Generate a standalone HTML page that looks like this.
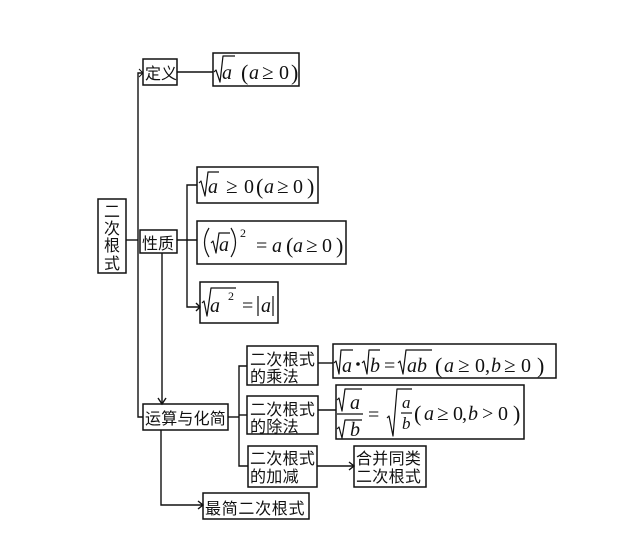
<!DOCTYPE html>
<html><head><meta charset="utf-8">
<style>
html,body{margin:0;padding:0;background:#fff;}
svg{display:block;}
.cn{font-family:"Liberation Sans","Noto Sans CJK SC",sans-serif;font-size:16px;fill:#111;}
.m{font-family:"Liberation Serif",serif;font-size:20px;fill:#111;}
.i{font-style:italic;}
.p{font-size:22px;}
.s{font-size:12px;}
.g{font-size:21px;}
.f{font-size:17px;}
</style></head>
<body>
<svg width="640" height="557" viewBox="0 0 640 557" xmlns="http://www.w3.org/2000/svg">
<rect width="640" height="557" fill="#fff"/>
<g fill="none" stroke="#111" stroke-width="1.5">
  <rect x="143" y="59" width="34" height="26"/>
  <rect x="213" y="53" width="86" height="33"/>
  <rect x="98" y="199" width="28" height="74"/>
  <rect x="140" y="230" width="37" height="23"/>
  <rect x="197" y="167" width="121" height="36"/>
  <rect x="197" y="221" width="149" height="43"/>
  <rect x="200" y="282" width="78" height="41"/>
  <rect x="143" y="404" width="85" height="26"/>
  <rect x="247" y="346" width="71" height="39"/>
  <rect x="247" y="396" width="71" height="38"/>
  <rect x="248" y="446" width="69" height="41"/>
  <rect x="333" y="344" width="223" height="34"/>
  <rect x="336" y="385" width="188" height="54"/>
  <rect x="354" y="446" width="72" height="41"/>
  <rect x="203" y="493" width="106" height="26"/>
</g>
<g fill="none" stroke="#111" stroke-width="1.4">
  <path d="M177,72 H213"/>
  <path d="M143,73 H138 V417 H143"/>
  <path d="M126,240 H138"/>
  <path d="M177,240 H197"/>
  <path d="M197,185 H187 V307 H200"/>
  <path d="M162,253 V404"/>
  <path d="M228,417 H239"/>
  <path d="M247,366 H239 V466 H248"/>
  <path d="M239,415 H247"/>
  <path d="M318,363 H333"/>
  <path d="M318,410 H336"/>
  <path d="M317,466 H354"/>
  <path d="M161,430 V505 H203"/>
  <path d="M158,398 L162,404 L166,398"/>
  <path d="M349,462 L354,466 L349,470"/>
  <path d="M198,501 L203,505 L198,509"/>
  <path d="M196,303 L200,307 L196,311"/>
  <path d="M139,69 L143,73 L139,77" stroke-width="1"/>
</g>

<text class="cn" x="145" y="79">定义</text>
<text class="cn" x="142" y="249">性质</text>
<text class="cn" x="104" y="217">二</text>
<text class="cn" x="104" y="234">次</text>
<text class="cn" x="104" y="251">根</text>
<text class="cn" x="104" y="269">式</text>
<text class="cn" x="145" y="424" letter-spacing="0.2">运算与化简</text>
<text class="cn" x="250" y="365" letter-spacing="0.3">二次根式</text>
<text class="cn" x="250" y="382" letter-spacing="0.3">的乘法</text>
<text class="cn" x="250" y="415" letter-spacing="0.3">二次根式</text>
<text class="cn" x="250" y="432" letter-spacing="0.3">的除法</text>
<text class="cn" x="250" y="464" letter-spacing="0.3">二次根式</text>
<text class="cn" x="250" y="482" letter-spacing="0.3">的加减</text>
<text class="cn" x="356" y="464" letter-spacing="0.3">合并同类</text>
<text class="cn" x="356" y="482" letter-spacing="0.3">二次根式</text>
<text class="cn" x="205" y="514" letter-spacing="0.7">最简二次根式</text>

<g fill="none" stroke="#111" stroke-width="1.2" stroke-linejoin="round">
  <path d="M214,72 L216,70 L220,82 L223,56 H235"/>
  <path d="M199,183 L201,181 L205,196 L208,172 H219"/>
  <path d="M209,228 Q200,242.5 209,257"/>
  <path d="M231,228 Q240,242.5 231,257"/>
  <path d="M211,243 L213,241 L216,253 L219,233 H230"/>
  <path d="M202,303 L204,301 L207,316 L211,288 H236"/>
  <path d="M258,296 V316"/>
  <path d="M273,296 V316"/>
  <path d="M334,363 L336,361 L339,374 L341,350 H353"/>
  <path d="M362,363 L364,361 L367,374 L369,350 H380"/>
  <path d="M398,363 L400,361 L403,374 L406,350 H432"/>
  <path d="M337,400 L339,398 L342,411 L345,389 H362"/>
  <path d="M337,414 H363"/>
  <path d="M337,429 L339,427 L342,438 L345,420 H362"/>
  <path d="M387,418 L389,416 L393,436 L397,389 H412"/>
  <path d="M401,413 H412"/>
</g>
<circle cx="358" cy="364" r="1.8" fill="#111"/>

<!-- def formula -->
<text class="m i" x="222" y="79">a</text>
<text class="m p" x="241" y="80">(</text>
<text class="m i" x="249" y="79">a</text>
<text class="m g" x="262" y="79">≥</text>
<text class="m" x="279" y="79">0</text>
<text class="m p" x="291" y="80">)</text>

<!-- F1 -->
<text class="m i" x="208" y="193">a</text>
<text class="m g" x="226" y="193">≥</text>
<text class="m" x="244" y="193">0</text>
<text class="m p" x="256" y="194">(</text>
<text class="m i" x="264" y="193">a</text>
<text class="m g" x="277" y="193">≥</text>
<text class="m" x="293" y="193">0</text>
<text class="m p" x="307" y="194">)</text>

<!-- F2 -->
<text class="m i" x="219" y="251">a</text>
<text class="m s" x="240" y="237">2</text>
<text class="m" x="256" y="252">=</text>
<text class="m i" x="272" y="252">a</text>
<text class="m p" x="286" y="253">(</text>
<text class="m i" x="293" y="252">a</text>
<text class="m g" x="306" y="252">≥</text>
<text class="m" x="322" y="252">0</text>
<text class="m p" x="336" y="253">)</text>

<!-- F3 -->
<text class="m i" x="210" y="312">a</text>
<text class="m s" x="228" y="300">2</text>
<text class="m" x="242" y="312">=</text>
<text class="m i" x="261" y="312">a</text>

<!-- product -->
<text class="m i" x="342" y="372">a</text>
<text class="m i" x="370" y="372">b</text>
<text class="m" x="384" y="372">=</text>
<text class="m i" x="407" y="372">ab</text>
<text class="m p" x="435" y="373">(</text>
<text class="m i" x="444" y="372">a</text>
<text class="m g" x="458" y="372">≥</text>
<text class="m" x="475" y="372">0</text>
<text class="m" x="485" y="372">,</text>
<text class="m i" x="491" y="372">b</text>
<text class="m g" x="504" y="372">≥</text>
<text class="m" x="521" y="372">0</text>
<text class="m p" x="537" y="373">)</text>

<!-- division -->
<text class="m i" x="350" y="409">a</text>
<text class="m i" x="350" y="436">b</text>
<text class="m" x="368" y="421">=</text>
<text class="m i f" x="402" y="408">a</text>
<text class="m i f" x="402" y="429">b</text>
<text class="m p" x="414" y="421">(</text>
<text class="m i" x="424" y="420">a</text>
<text class="m g" x="437" y="420">≥</text>
<text class="m" x="453" y="420">0</text>
<text class="m" x="462" y="420">,</text>
<text class="m i" x="468" y="420">b</text>
<text class="m" x="482" y="420">&gt;</text>
<text class="m" x="498" y="420">0</text>
<text class="m p" x="513" y="421">)</text>
</svg>
</body></html>
